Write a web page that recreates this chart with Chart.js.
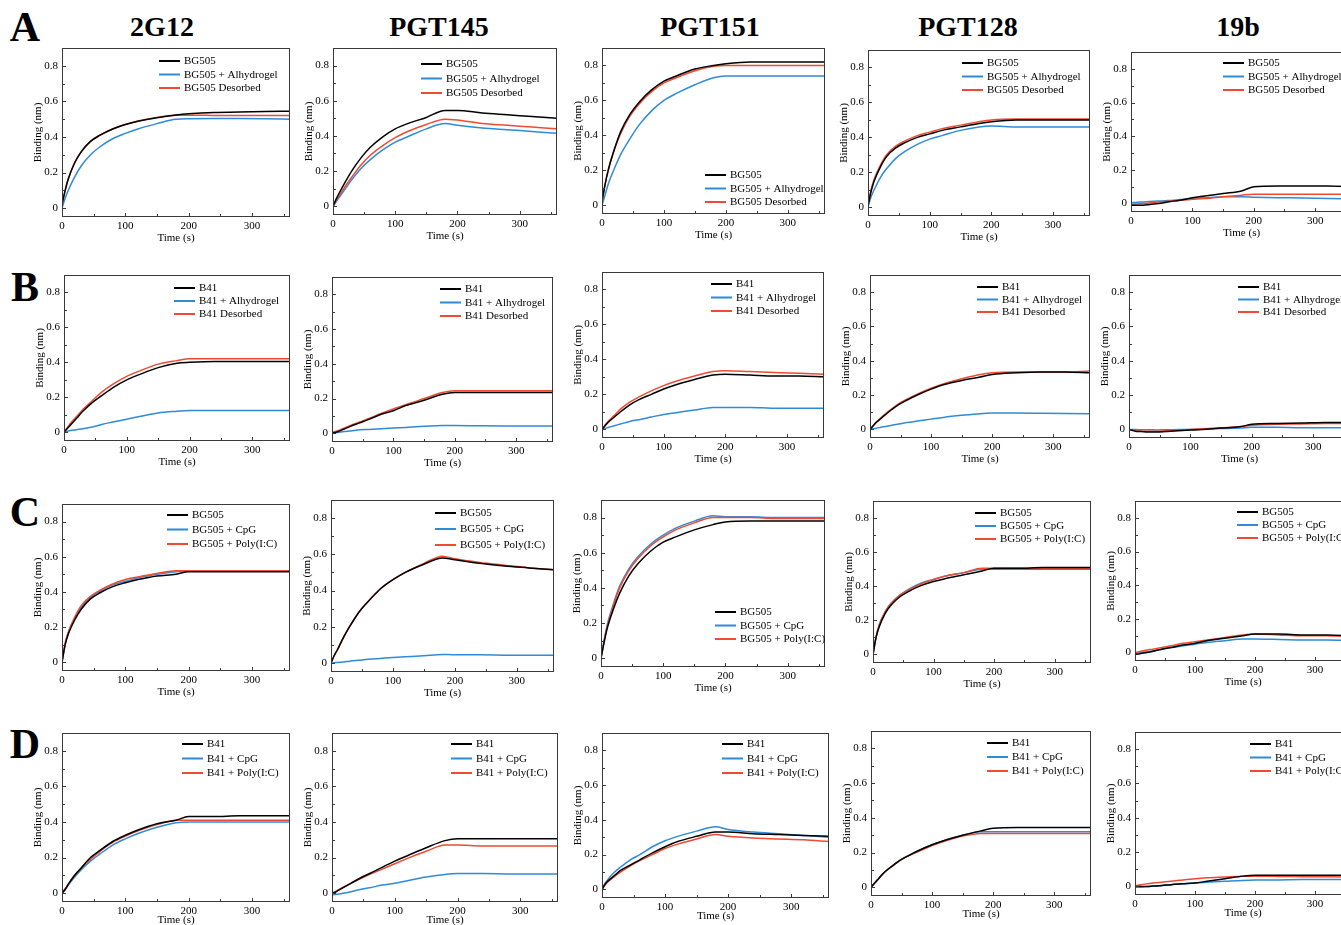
<!DOCTYPE html>
<html>
<head>
<meta charset="utf-8">
<script src="https://cdn.jsdelivr.net/npm/chart.js@4"></script>
<style>
  html, body { margin: 0; padding: 0; background: #fff; overflow: hidden; }
  body { width: 1341px; height: 925px; position: relative; font-family: 'Liberation Serif', serif; }
  canvas { position: absolute; }
  .title { position: absolute; transform: translate(-50%, -50%); font-weight: bold; font-size: 28px; white-space: nowrap; }
  .letter { position: absolute; transform: translate(-50%, -50%); font-weight: bold; font-size: 42px; }
</style>
</head>
<body>
<script>
// sampling times (s) shared by every sensorgram
var times = [0, 5, 10, 20, 30, 45, 60, 80, 100, 120, 150, 180, 200, 240, 280, 320, 360];

var antibodies = ["2G12", "PGT145", "PGT151", "PGT128", "19b"];
var rowLetters = ["A", "B", "C", "D"];
var legendA = ["BG505", "BG505 + Alhydrogel", "BG505 Desorbed"];
var legendB = ["B41", "B41 + Alhydrogel", "B41 Desorbed"];
var legendC = ["BG505", "BG505 + CpG", "BG505 + Poly(I:C)"];
var legendD = ["B41", "B41 + CpG", "B41 + Poly(I:C)"];

var xMajor = [0, 100, 200, 300];
var xMinor = [50, 150, 250, 350];
var yMajor = [0, 0.2, 0.4, 0.6, 0.8];
var yMinor = [0.1, 0.3, 0.5, 0.7];

// row A : BG505 (k = black, b = blue, r = red)
var a1k = [0.02,0.10,0.165,0.255,0.315,0.375,0.41,0.445,0.47,0.488,0.508,0.523,0.53,0.538,0.54,0.543,0.545];
var a1b = [0.00,0.055,0.10,0.175,0.235,0.30,0.345,0.39,0.42,0.445,0.475,0.50,0.502,0.503,0.503,0.502,0.50];
var a1r = [0.02,0.10,0.165,0.255,0.315,0.375,0.41,0.445,0.47,0.49,0.51,0.522,0.522,0.521,0.52,0.52,0.52];
var a2k = [0.00,0.04,0.075,0.14,0.20,0.275,0.335,0.395,0.44,0.47,0.505,0.545,0.545,0.53,0.52,0.51,0.50];
var a2b = [0.00,0.025,0.05,0.10,0.15,0.215,0.265,0.32,0.365,0.395,0.44,0.47,0.46,0.445,0.435,0.425,0.415];
var a2r = [0.00,0.03,0.06,0.115,0.165,0.235,0.29,0.345,0.39,0.425,0.465,0.495,0.49,0.47,0.46,0.45,0.44];
var a3k = [0.02,0.12,0.20,0.32,0.42,0.52,0.59,0.66,0.71,0.74,0.78,0.80,0.81,0.82,0.82,0.82,0.82];
var a3b = [0.00,0.06,0.12,0.21,0.29,0.38,0.46,0.54,0.60,0.64,0.69,0.73,0.74,0.74,0.74,0.74,0.74];
var a3r = [0.02,0.12,0.20,0.32,0.41,0.51,0.58,0.65,0.70,0.73,0.77,0.795,0.80,0.80,0.80,0.80,0.80];
var a4k = [0.01,0.09,0.15,0.23,0.29,0.34,0.37,0.40,0.42,0.44,0.46,0.48,0.49,0.50,0.50,0.50,0.50];
var a4b = [0.00,0.06,0.10,0.17,0.22,0.28,0.32,0.36,0.39,0.41,0.44,0.46,0.465,0.46,0.46,0.46,0.46];
var a4r = [0.01,0.10,0.16,0.24,0.30,0.35,0.38,0.41,0.43,0.45,0.47,0.49,0.50,0.505,0.505,0.505,0.505];
var a5k = [-0.01,-0.01,-0.01,-0.01,-0.005,0.00,0.01,0.02,0.035,0.045,0.06,0.075,0.10,0.105,0.105,0.105,0.10];
var a5b = [0.005,0.006,0.008,0.01,0.012,0.015,0.018,0.024,0.03,0.034,0.04,0.04,0.038,0.035,0.033,0.03,0.028];
var a5r = [-0.005,-0.004,-0.002,0.0,0.004,0.01,0.014,0.02,0.025,0.03,0.04,0.05,0.055,0.055,0.055,0.055,0.055];

// row B : B41
var b1k = [0.00,0.02,0.04,0.08,0.12,0.17,0.21,0.26,0.30,0.33,0.37,0.395,0.40,0.405,0.405,0.405,0.405];
var b1b = [0.00,0.005,0.01,0.015,0.02,0.03,0.045,0.06,0.075,0.09,0.11,0.12,0.125,0.125,0.125,0.125,0.125];
var b1r = [0.00,0.025,0.05,0.09,0.13,0.18,0.23,0.28,0.32,0.35,0.39,0.41,0.42,0.42,0.42,0.42,0.42];
var b2k = [0.00,0.005,0.01,0.025,0.04,0.06,0.08,0.11,0.13,0.16,0.19,0.225,0.235,0.235,0.235,0.235,0.235];
var b2b = [0.00,0.003,0.005,0.01,0.013,0.02,0.022,0.026,0.03,0.034,0.04,0.045,0.045,0.043,0.042,0.042,0.042];
var b2r = [0.005,0.01,0.015,0.03,0.045,0.065,0.085,0.115,0.14,0.165,0.20,0.235,0.245,0.245,0.245,0.245,0.245];
var b3k = [0.00,0.02,0.04,0.07,0.10,0.14,0.17,0.20,0.23,0.255,0.285,0.31,0.315,0.31,0.305,0.305,0.30];
var b3b = [0.00,0.005,0.01,0.02,0.03,0.045,0.055,0.07,0.085,0.095,0.11,0.125,0.125,0.125,0.12,0.12,0.12];
var b3r = [0.00,0.025,0.045,0.08,0.115,0.155,0.185,0.22,0.25,0.275,0.305,0.33,0.335,0.33,0.325,0.32,0.315];
var b4k = [0.00,0.02,0.04,0.07,0.10,0.14,0.17,0.205,0.235,0.26,0.285,0.305,0.32,0.33,0.335,0.335,0.33];
var b4b = [0.00,0.004,0.007,0.014,0.02,0.03,0.04,0.05,0.06,0.07,0.082,0.092,0.095,0.095,0.094,0.093,0.092];
var b4r = [0.00,0.022,0.042,0.075,0.105,0.145,0.175,0.21,0.24,0.265,0.295,0.32,0.33,0.335,0.335,0.335,0.34];
var b5k = [0.00,-0.005,-0.01,-0.012,-0.015,-0.015,-0.012,-0.008,-0.004,0.00,0.008,0.015,0.03,0.035,0.037,0.04,0.04];
var b5b = [0.00,-0.001,-0.001,-0.002,-0.002,-0.003,-0.002,-0.001,0.00,0.002,0.005,0.008,0.012,0.012,0.01,0.01,0.01];
var b5r = [0.00,-0.005,-0.008,-0.01,-0.01,-0.01,-0.008,-0.004,0.00,0.004,0.01,0.015,0.025,0.03,0.032,0.034,0.035];

// row C : BG505 with adjuvants
var c1k = [0.00,0.10,0.16,0.24,0.30,0.36,0.395,0.43,0.452,0.47,0.49,0.50,0.515,0.515,0.515,0.515,0.515];
var c1b = [0.00,0.10,0.17,0.25,0.31,0.37,0.405,0.44,0.46,0.48,0.50,0.515,0.52,0.52,0.52,0.52,0.52];
var c1r = [0.00,0.11,0.17,0.255,0.32,0.375,0.41,0.445,0.47,0.485,0.505,0.52,0.52,0.52,0.52,0.52,0.52];
var c2k = [0.00,0.04,0.07,0.14,0.20,0.28,0.34,0.41,0.46,0.50,0.545,0.58,0.57,0.55,0.535,0.525,0.515];
var c2b = [0.00,0.001,0.003,0.005,0.01,0.015,0.02,0.025,0.03,0.034,0.04,0.047,0.045,0.045,0.043,0.042,0.042];
var c2r = [0.00,0.04,0.07,0.14,0.20,0.28,0.34,0.41,0.46,0.50,0.55,0.59,0.575,0.555,0.54,0.525,0.515];
var c3k = [0.00,0.09,0.17,0.28,0.37,0.47,0.54,0.61,0.66,0.69,0.73,0.76,0.775,0.78,0.78,0.78,0.78];
var c3b = [0.00,0.10,0.19,0.31,0.41,0.51,0.58,0.65,0.70,0.74,0.78,0.81,0.805,0.805,0.80,0.80,0.80];
var c3r = [0.00,0.10,0.18,0.30,0.40,0.50,0.57,0.64,0.69,0.73,0.77,0.80,0.80,0.80,0.795,0.795,0.795];
var c4k = [0.00,0.10,0.16,0.24,0.29,0.34,0.372,0.405,0.428,0.445,0.467,0.49,0.505,0.505,0.51,0.51,0.51];
var c4b = [0.00,0.10,0.17,0.25,0.30,0.35,0.385,0.42,0.44,0.46,0.48,0.50,0.50,0.50,0.50,0.50,0.50];
var c4r = [0.00,0.10,0.17,0.25,0.30,0.35,0.38,0.415,0.44,0.46,0.48,0.505,0.505,0.505,0.505,0.505,0.505];
var c5k = [-0.01,-0.008,-0.005,0.00,0.008,0.02,0.03,0.045,0.055,0.07,0.085,0.10,0.11,0.11,0.105,0.105,0.10];
var c5b = [-0.005,-0.003,0.00,0.005,0.01,0.02,0.03,0.04,0.05,0.06,0.07,0.08,0.08,0.078,0.075,0.075,0.072];
var c5r = [0.00,0.004,0.008,0.015,0.02,0.03,0.04,0.055,0.065,0.075,0.09,0.105,0.11,0.105,0.10,0.10,0.095];

// row D : B41 with adjuvants
var d1k = [0.00,0.02,0.05,0.10,0.14,0.20,0.24,0.29,0.325,0.355,0.39,0.41,0.43,0.43,0.435,0.435,0.435];
var d1b = [0.00,0.02,0.045,0.09,0.13,0.18,0.22,0.27,0.305,0.335,0.37,0.395,0.40,0.40,0.40,0.40,0.40];
var d1r = [0.00,0.025,0.05,0.10,0.14,0.19,0.235,0.285,0.32,0.35,0.385,0.41,0.41,0.41,0.41,0.41,0.41];
var d2k = [0.00,0.005,0.015,0.035,0.055,0.085,0.11,0.145,0.18,0.21,0.255,0.295,0.305,0.305,0.305,0.305,0.305];
var d2b = [-0.01,-0.008,-0.005,0.00,0.008,0.02,0.03,0.045,0.055,0.07,0.09,0.105,0.11,0.11,0.108,0.107,0.107];
var d2r = [0.00,0.008,0.018,0.037,0.055,0.08,0.105,0.135,0.165,0.195,0.235,0.27,0.27,0.265,0.265,0.265,0.265];
var d3k = [0.00,0.03,0.05,0.08,0.11,0.14,0.17,0.21,0.245,0.275,0.305,0.33,0.33,0.32,0.315,0.31,0.305];
var d3b = [0.00,0.035,0.06,0.10,0.13,0.17,0.20,0.245,0.28,0.305,0.335,0.36,0.345,0.33,0.32,0.31,0.30];
var d3r = [0.00,0.025,0.045,0.075,0.10,0.135,0.165,0.20,0.235,0.26,0.29,0.315,0.305,0.295,0.29,0.285,0.275];
var d4k = [0.00,0.02,0.04,0.08,0.11,0.15,0.18,0.215,0.245,0.27,0.30,0.325,0.34,0.345,0.345,0.345,0.345];
var d4b = [0.00,0.02,0.04,0.08,0.11,0.15,0.18,0.215,0.245,0.27,0.30,0.32,0.32,0.32,0.32,0.32,0.32];
var d4r = [0.00,0.02,0.04,0.08,0.11,0.15,0.18,0.21,0.24,0.265,0.295,0.31,0.31,0.31,0.31,0.31,0.31];
var d5k = [0.00,0.00,0.00,0.00,0.002,0.005,0.01,0.015,0.02,0.03,0.045,0.06,0.065,0.065,0.065,0.065,0.065];
var d5b = [-0.005,-0.004,-0.003,0.00,0.002,0.005,0.01,0.015,0.02,0.025,0.03,0.035,0.037,0.038,0.04,0.04,0.04];
var d5r = [0.005,0.007,0.01,0.015,0.02,0.025,0.03,0.038,0.045,0.05,0.055,0.06,0.06,0.058,0.057,0.056,0.055];

var rows = [
  { legend: legendA, series: [[a1k,a1b,a1r],[a2k,a2b,a2r],[a3k,a3b,a3r],[a4k,a4b,a4r],[a5k,a5b,a5r]] },
  { legend: legendB, series: [[b1k,b1b,b1r],[b2k,b2b,b2r],[b3k,b3b,b3r],[b4k,b4b,b4r],[b5k,b5b,b5r]] },
  { legend: legendC, series: [[c1k,c1b,c1r],[c2k,c2b,c2r],[c3k,c3b,c3r],[c4k,c4b,c4r],[c5k,c5b,c5r]] },
  { legend: legendD, series: [[d1k,d1b,d1r],[d2k,d2b,d2r],[d3k,d3b,d3r],[d4k,d4b,d4r],[d5k,d5b,d5r]] }
];

// page placement of each plot: x of t=0, x of t=300, y of 0.8, y of 0, legend x, legend y, legend row gap
var boxes = [
  [[62,252,66,208,159,61,13.5],[333,520,66,207,421,64,14.5],[602,788,65,205,705,175,13.5],[868,1053,67,207,962,63,13.5],[1131,1315,69,204,1223,63,13.5]],
  [[64,252,292,432,174,288,13],[332,516,294,433,440,289,13.5],[602,787,289,429,711,284,13.5],[870,1053,292,429,977,287,12.5],[1129,1313,292,429,1238,287,12.5]],
  [[62,252,522,663,167,515,14.5],[331,517,518,663,435,513,16],[601,788,518,659,715,612,13.5],[873,1055,518,654,975,513,13],[1135,1315,518,653,1237,512,13]],
  [[62,252,751,893,182,744,14.5],[332,520,751,893,451,744,14.5],[602,791,750,889,722,744,14.5],[871,1054,748,887,987,743,14],[1135,1315,749,886,1250,744,13.5]]
];
var titleX = [162, 439, 710, 968, 1238];
var letterY = [27, 287, 512, 744];
var timeTitleLift = [4, 4, 4, 7];

var colors = ["#000000", "#2f8bd8", "#f04a32"];
var AXW = 34, AXH = 32, PADT = 4, PADR = 8;

Chart.defaults.font.family = "'Liberation Serif', serif";
Chart.defaults.font.size = 11;
Chart.defaults.color = "#000";

var frameTicks = {
  id: "frameTicks",
  afterDraw: function (chart) {
    var ctx = chart.ctx, a = chart.chartArea, x = chart.scales.x, y = chart.scales.y;
    ctx.save();
    ctx.strokeStyle = "#3a3a3a";
    ctx.lineWidth = 1;
    ctx.strokeRect(a.left + 0.5, a.top + 0.5, a.right - a.left - 1, a.bottom - a.top - 1);
    ctx.beginPath();
    xMajor.concat(xMinor).forEach(function (v) {
      var px = Math.round(x.getPixelForValue(v)) + 0.5;
      var len = xMajor.indexOf(v) >= 0 ? 4 : 3;
      ctx.moveTo(px, a.bottom);
      ctx.lineTo(px, a.bottom - len);
    });
    yMajor.concat(yMinor).forEach(function (v) {
      var py = Math.round(y.getPixelForValue(v)) + 0.5;
      var len = yMajor.indexOf(v) >= 0 ? 4 : 3;
      ctx.moveTo(a.left, py);
      ctx.lineTo(a.left + len, py);
    });
    ctx.stroke();
    ctx.restore();
  }
};

var insideLegend = {
  id: "insideLegend",
  afterDraw: function (chart, args, opts) {
    var ctx = chart.ctx;
    ctx.save();
    ctx.font = "11px 'Liberation Serif', serif";
    ctx.textBaseline = "middle";
    chart.data.datasets.forEach(function (ds, i) {
      var lx = opts.x, ly = opts.y + i * opts.gap;
      ctx.strokeStyle = ds.borderColor;
      ctx.lineWidth = 2;
      ctx.beginPath();
      ctx.moveTo(lx, ly);
      ctx.lineTo(lx + 21, ly);
      ctx.stroke();
      ctx.fillStyle = "#000";
      ctx.fillText(ds.label, lx + 25, ly + 0.5);
    });
    ctx.restore();
  }
};

function addText(cls, text, x, y) {
  var d = document.createElement("div");
  d.className = cls;
  d.textContent = text;
  d.style.left = x + "px";
  d.style.top = y + "px";
  document.body.appendChild(d);
}

antibodies.forEach(function (name, c) { addText("title", name, titleX[c], 27); });
rowLetters.forEach(function (l, r) { addText("letter", l, 25, letterY[r]); });

rows.forEach(function (row, r) {
  row.series.forEach(function (trio, c) {
    var b = boxes[r][c];
    var pxPerUnitY = (b[3] - b[2]) / 0.8;
    var boxW = (b[1] - b[0]) * 1.2;
    var boxH = pxPerUnitY * 0.95;
    var boxTop = b[3] - pxPerUnitY * 0.9;
    var W = Math.round(AXW + boxW + PADR);
    var H = Math.round(PADT + boxH + AXH);
    var cvTop = Math.round(boxTop - PADT);
    var cv = document.createElement("canvas");
    cv.width = W;
    cv.height = H;
    cv.style.left = (b[0] - AXW) + "px";
    cv.style.top = cvTop + "px";
    document.body.appendChild(cv);

    var datasets = trio.map(function (vals, i) {
      return {
        label: row.legend[i],
        data: times.map(function (t, j) { return { x: t, y: vals[j] }; }),
        borderColor: colors[i],
        borderWidth: 1.5,
        pointRadius: 0,
        cubicInterpolationMode: "monotone",
        order: i === 0 ? 1 : (i === 1 ? 3 : 2)
      };
    });

    new Chart(cv, {
      type: "line",
      data: { datasets: datasets },
      options: {
        responsive: false,
        animation: false,
        layout: { padding: { top: PADT, right: PADR, left: 0, bottom: 0 } },
        plugins: {
          legend: { display: false },
          tooltip: { enabled: false },
          insideLegend: { x: b[4] - (b[0] - AXW), y: b[5] - cvTop, gap: b[6] }
        },
        scales: {
          x: {
            type: "linear", min: 0, max: 360,
            afterBuildTicks: function (s) { s.ticks = xMajor.map(function (v) { return { value: v }; }); },
            afterFit: function (s) { s.height = AXH; s.paddingLeft = 0; s.paddingRight = 0; },
            ticks: { autoSkip: false, maxRotation: 0, padding: 3 },
            grid: { display: false, drawTicks: false },
            border: { display: false },
            title: { display: true, text: "Time (s)", padding: { top: 0, bottom: timeTitleLift[r] } }
          },
          y: {
            type: "linear", min: -0.05, max: 0.9,
            afterBuildTicks: function (s) { s.ticks = yMajor.map(function (v) { return { value: v }; }); },
            afterFit: function (s) { s.width = AXW; s.paddingTop = 0; s.paddingBottom = 0; },
            ticks: { autoSkip: false, padding: 4, callback: function (v) { return String(Number(v.toFixed(1))); } },
            grid: { display: false, drawTicks: false },
            border: { display: false },
            title: { display: true, text: "Binding (nm)", padding: { top: 4, bottom: 0 } }
          }
        }
      },
      plugins: [frameTicks, insideLegend]
    });
  });
});
</script>
</body>
</html>
